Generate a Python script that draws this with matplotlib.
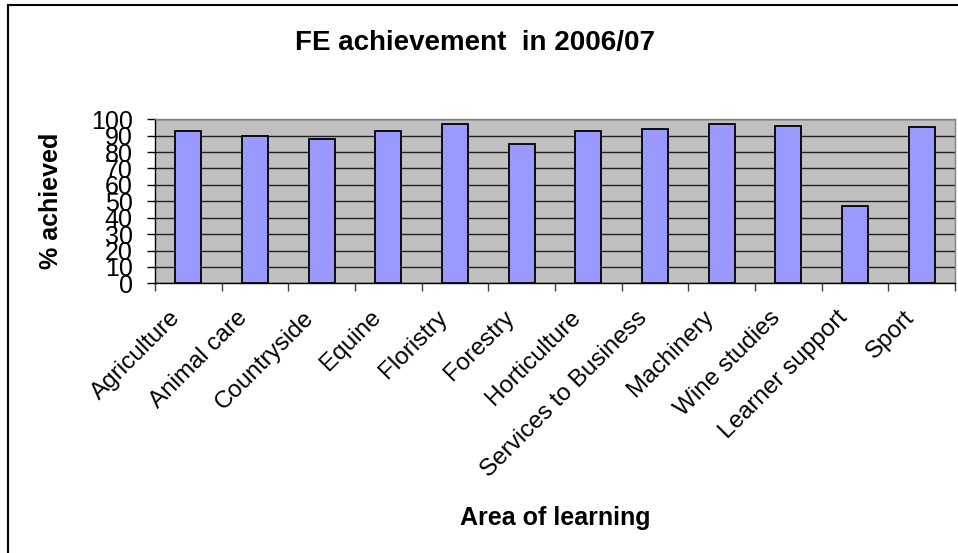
import matplotlib
matplotlib.use("Agg")
import matplotlib.pyplot as plt
from matplotlib.lines import Line2D
from matplotlib.transforms import ScaledTranslation
import numpy as np

plt.rcParams["font.family"] = ["Liberation Sans", "DejaVu Sans"]

areas = ["Agriculture", "Animal care", "Countryside", "Equine", "Floristry",
         "Forestry", "Horticulture", "Services to Business", "Machinery",
         "Wine studies", "Learner support", "Sport"]
pct_achieved = [93, 90, 88, 93, 97, 85, 93, 94, 97, 96, 47, 95]
y_ticks = list(range(0, 101, 10))

W, H = 958, 553
fig = plt.figure(figsize=(W / 100, H / 100), dpi=100)
ax = fig.add_axes([155 / W, 1 - 283.3 / H, 800 / W, (283.3 - 119.3) / H])

ax.set_facecolor("#C0C0C0")
x = np.arange(len(areas))
ax.bar(x, pct_achieved, width=0.39, color="#9999FF", edgecolor="black",
       linewidth=1.3, zorder=3)

ax.set_xlim(-0.5, len(areas) - 0.5)
ax.set_ylim(0, 100)
ax.set_yticks(y_ticks)
ax.set_yticklabels([str(v) for v in y_ticks], fontsize=18)
ax.yaxis.grid(True, color="#202020", linewidth=1.0, zorder=1)
ax.set_axisbelow(True)

# ticks on the category boundaries, names at the centres (drawn as text)
ax.set_xticks(np.arange(len(areas) + 1) - 0.5)
ax.set_xticklabels([])
ax.tick_params(axis="x", length=6, width=1, color="#404040")
ax.tick_params(axis="y", length=6, width=1, pad=10)

shift = ScaledTranslation(-0.11, -0.31, fig.dpi_scale_trans)
for xi, name in zip(x, areas):
    ax.text(xi, 0, name, transform=ax.get_xaxis_transform() + shift,
            rotation=45, rotation_mode="anchor", ha="right", va="center",
            fontsize=17.5)

for side in ("left", "bottom"):
    ax.spines[side].set_color("black")
    ax.spines[side].set_linewidth(1.0)
for side in ("top", "right"):
    ax.spines[side].set_color("#808080")
    ax.spines[side].set_linewidth(1.0)

ax.set_ylabel("% achieved", fontsize=18, fontweight="bold", va="center")
ax.yaxis.set_label_coords(-0.13, 0.5)
ax.set_xlabel("Area of learning", fontsize=18, fontweight="bold", va="center")
ax.xaxis.set_label_coords(0.5, -1.43)

fig.text(0.496, 1 - 43 / H, "FE achievement  in 2006/07", fontsize=20,
         fontweight="bold", ha="center", va="center")

# chart border (only left and top edges are inside the picture)
fig.add_artist(Line2D([8 / W, 8 / W], [0, 1 - 5 / H], color="black", lw=1.5))
fig.add_artist(Line2D([8 / W, 1], [1 - 5 / H, 1 - 5 / H], color="black", lw=1.5))

fig.savefig("out.png", dpi=100)
